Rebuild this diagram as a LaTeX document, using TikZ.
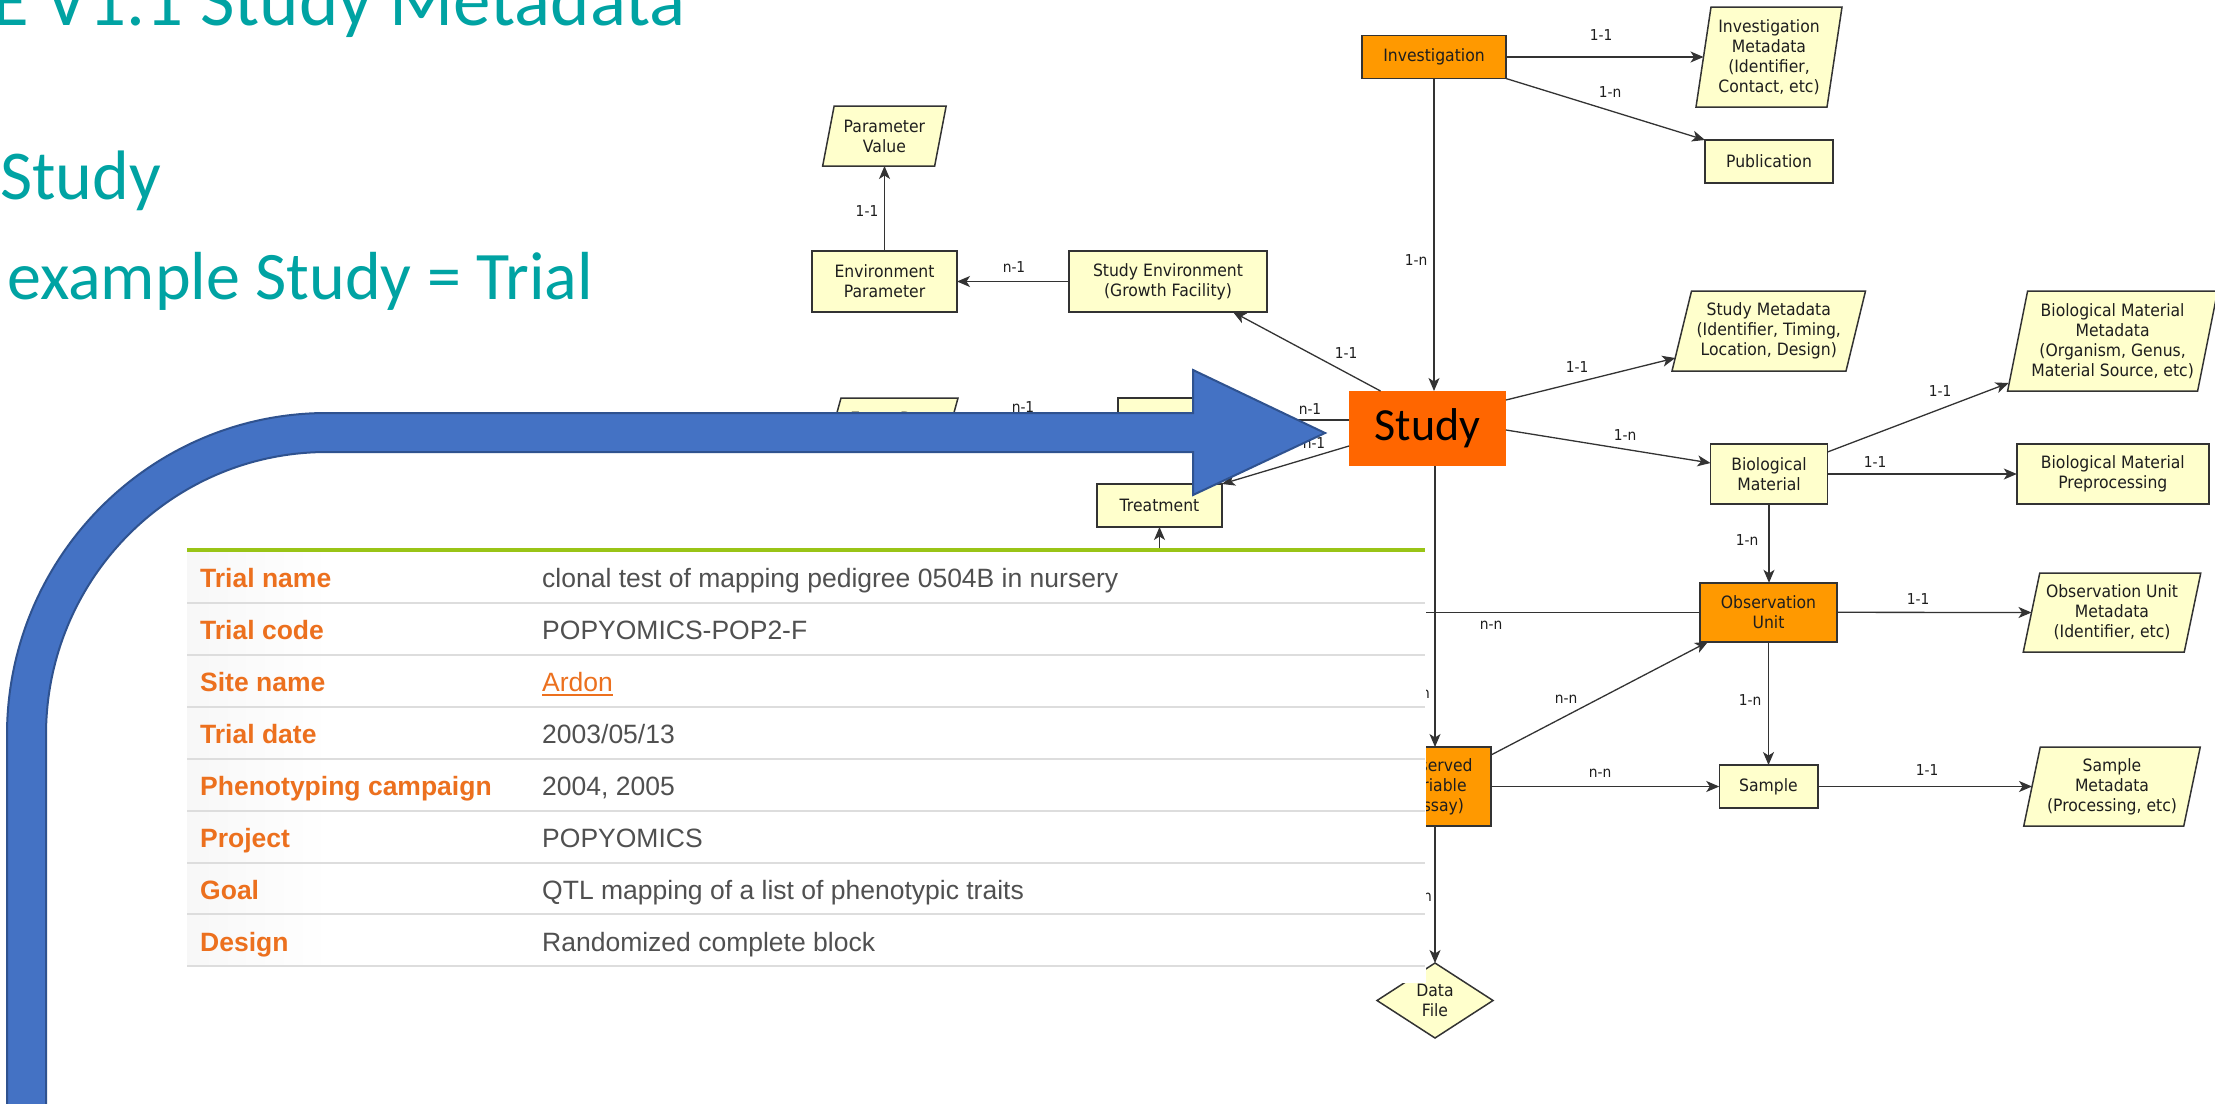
\documentclass[tikz,border=0pt]{standalone}
\usepackage{fontspec}
\usetikzlibrary{shapes.geometric,arrows.meta,calc}
\newfontfamily\djf[FakeStretch=0.92]{DejaVu Sans}
\newfontfamily\carl{Carlito}
\newfontfamily\arl{Liberation Sans}
\definecolor{yel}{RGB}{255,255,204}
\definecolor{org}{RGB}{255,153,0}
\definecolor{studyorg}{RGB}{255,102,0}
\definecolor{bord}{RGB}{51,51,51}
\definecolor{txt}{RGB}{30,30,30}
\definecolor{teal1}{RGB}{0,163,163}
\definecolor{blu}{RGB}{68,114,196}
\definecolor{bluedge}{RGB}{47,82,143}
\definecolor{tlab}{RGB}{236,112,30}
\definecolor{tval}{RGB}{80,80,80}
\definecolor{tgreen}{RGB}{153,196,22}
\definecolor{tline}{RGB}{221,221,221}
\tikzset{
 ybox/.style={rectangle, draw=bord, line width=1.5pt, fill=yel, text=txt, font=\djf\fontsize{17}{20}\selectfont, align=center, inner sep=0pt, outer sep=0pt},
 obox/.style={ybox, fill=org},
 ptext/.style={rectangle, text=txt, font=\djf\fontsize{17}{20}\selectfont, align=center, inner sep=0pt, outer sep=0pt},
 pshape/.style={draw=bord, line width=1.5pt, fill=yel, line join=miter},
 conn/.style={draw=bord, line width=1.3pt, -{Stealth[length=13pt,width=11pt,inset=3.5pt]}},
 plainline/.style={draw=bord, line width=1.3pt},
 lbl/.style={text=txt, font=\djf\fontsize{15}{17}\selectfont, inner sep=0pt},
 tlabel/.style={anchor=base west, inner sep=0pt, text=tlab, font=\arl\bfseries\fontsize{26.5}{30}\selectfont},
 tvalue/.style={anchor=base west, inner sep=0pt, text=tval, font=\arl\fontsize{26.5}{30}\selectfont},
 ttl/.style={anchor=base west, inner sep=0pt, text=teal1, font=\carl\fontsize{75}{90}\selectfont},
}
% name, cx, cy, mid width, height, slant, text
\newcommand\paranode[7]{%
  \path[pshape] (#2-#4/2+#6/2,#3-#5/2) -- (#2+#4/2+#6/2,#3-#5/2) -- (#2+#4/2-#6/2,#3+#5/2) -- (#2-#4/2-#6/2,#3+#5/2) -- cycle;
  \node[ptext, minimum width=#4pt, minimum height=#5pt] (#1) at (#2,#3) {#7};
}
\newcommand\ulin[1]{\setbox0\hbox{#1}\rlap{\vrule height -3pt depth 5pt width \wd0}\box0}
\begin{document}
\begin{tikzpicture}[x=1pt,y=-1pt]
\useasboundingbox (0,0) rectangle (2215,1103);
\clip (0,0) rectangle (2215,1103);
\fill[white] (0,0) rectangle (2215,1103);

% slide text
\node[ttl] (title) at (-8,25) {E V1.1 Study Metadata};
\node[ttl, font=\carl\fontsize{70}{84}\selectfont] (bul1) at (0,199) {Study};
\node[ttl, font=\carl\fontsize{68}{80}\selectfont] (bul2) at (7,299) {example Study = Trial};

% boxes
\node[obox, minimum width=144pt, minimum height=43pt] (inv) at (1434,57) {Investigation};
\node[ybox, minimum width=128pt, minimum height=43pt] (pub) at (1769,161.5) {Publication};
\node[ybox, minimum width=145pt, minimum height=61pt] (envp) at (884.5,281.5) {Environment\\Parameter};
\node[ybox, minimum width=198pt, minimum height=61pt] (senv) at (1168,281.5) {Study Environment\\(Growth Facility)};
\node[rectangle, fill=studyorg, minimum width=157pt, minimum height=75pt, inner sep=0pt, outer sep=0pt, text=black, font=\carl\fontsize{46}{50}\selectfont] (study) at (1427.5,428.5) {Study};
\node[ybox, minimum width=83pt, minimum height=44pt] (event) at (1159.5,420) {Event};
\node[ybox, minimum width=125pt, minimum height=43pt] (treat) at (1159.5,505.5) {Treatment};
\node[ybox, minimum width=117pt, minimum height=60pt] (bm) at (1769,474) {Biological\\Material};
\node[ybox, minimum width=192pt, minimum height=60pt] (bmp) at (2112.8,474) {Biological Material\\Preprocessing};
\node[obox, minimum width=137pt, minimum height=59pt] (ou) at (1768.5,612.3) {Observation\\Unit};
\node[ybox, minimum width=98.5pt, minimum height=43pt] (sample) at (1768.5,786.5) {Sample};
\node[obox, minimum width=112pt, minimum height=79pt] (obsv) at (1435,786.5) {Observed\\Variable\\(Assay)};
\node[ybox, diamond, aspect=1.5, minimum width=116pt, minimum height=75pt] (df) at (1435,1000.5) {Data\\File};

% parallelograms
\paranode{pv}{884.4}{136}{112}{60}{11.5}{Parameter\\Value}
\paranode{im}{1769}{57}{131}{100}{15}{Investigation\\Metadata\\(Identifier,\\Contact, etc)}
\paranode{sm}{1768.75}{331}{174}{80}{19.5}{Study Metadata\\(Identifier, Timing,\\Location, Design)}
\paranode{bmm}{2112.6}{341}{190}{100}{20}{Biological Material\\Metadata\\(Organism, Genus,\\Material Source, etc)}
\paranode{oum}{2112}{612.5}{161}{79}{16.5}{Observation Unit\\Metadata\\(Identifier, etc)}
\paranode{smeta}{2112}{786.5}{160}{79}{16.5}{Sample\\Metadata\\(Processing, etc)}
\paranode{ed}{894}{418}{117}{40}{11}{Event Data}

\coordinate (hidOU) at (1300,612.3);
\coordinate (hidT) at (1159.5,600);

% connectors
\draw[conn] (inv.east) -- (im.west);
\draw[conn] (inv.south east) -- (pub.north west);
\draw[conn] (inv.south) -- (inv.south |- study.north);
\draw[conn] ([yshift=28.5pt]study.east) -- ($(sm.south west)+(-6.5,-13)$);
\draw[conn] ([yshift=-1.5pt]study.east) -- ([yshift=11pt]bm.west);
\draw[conn] ([yshift=22pt]bm.east) -- ($(bmm.south west)+(-9,-8)$);
\draw[conn] (bm.east) -- (bmp.west);
\draw[conn] (bm.south) -- (bm.south |- ou.north);
\draw[conn] (ou.east) -- (oum.west);
\draw[plainline] (ou.west) -- (hidOU);
\draw[conn] (ou.south) -- (ou.south |- sample.north);
\draw[conn] (sample.east) -- (smeta.west);
\draw[conn] (obsv.east) -- (sample.west);
\draw[conn] ([yshift=31.5pt]obsv.east) -- ($(ou.south west)+(8,0)$);
\draw[conn] (obsv.north |- study.south) -- (obsv.north);
\draw[conn] (obsv.south) -- (df.north);
\draw[conn] ($(study.north west)+(31.5,0)$) -- ($(senv.south east)+(-34,0)$);
\draw[conn] (senv.west) -- (envp.east);
\draw[conn] (envp.north) -- (envp.north |- pv.south);
\draw[conn] (study.west |- event.east) -- (event.east);
\draw[conn] (event.west) -- (ed.east);
\draw[conn] ([yshift=-17.5pt]study.west) -- (treat.north east);
\draw[conn] (hidT) -- (treat.south);

% labels
\node[lbl] (l1) at (1601,35) {1-1};
\node[lbl] (l2) at (1610,92) {1-n};
\node[lbl] (l3) at (1416,260) {1-n};
\node[lbl] (l4) at (1577,367) {1-1};
\node[lbl] (l5) at (1625,435) {1-n};
\node[lbl] (l6) at (1940,391) {1-1};
\node[lbl] (l7) at (1875,462) {1-1};
\node[lbl] (l8) at (1747,540) {1-n};
\node[lbl] (l9) at (1918,599) {1-1};
\node[lbl] (l10) at (1491,625) {n-n};
\node[lbl] (l11) at (1750,700) {1-n};
\node[lbl] (l12) at (1927,770) {1-1};
\node[lbl] (l13) at (1600,773) {n-n};
\node[lbl] (l14) at (1566,699) {n-n};
\node[lbl, anchor=east] (l15) at (1430,693) {1-n};
\node[lbl, anchor=east] (l16) at (1432,896) {1-n};
\node[lbl] (l17) at (1346,353) {1-1};
\node[lbl] (l18) at (1014,267) {n-1};
\node[lbl] (l19) at (867,211) {1-1};
\node[lbl] (l20) at (1310,409) {n-1};
\node[lbl] (l21) at (1023,407) {n-1};
\node[lbl] (l22) at (1314,443) {n-1};

% table screenshot
\fill[white] (187,548) rectangle (1426,983);
\shade[left color=black!3, right color=white] (187,552) rectangle (330,966);
\draw[tgreen, line width=4pt] (187,550) -- (1425,550);
\foreach \yy in {603,655,707,759,811,863,914,966} \draw[tline, line width=2.5pt] (187,\yy) -- (1425,\yy);
\node[tlabel] (r1a) at (200,587) {Trial name};
\node[tvalue] (r1b) at (542,587) {clonal test of mapping pedigree 0504B in nursery};
\node[tlabel] (r2a) at (200,639) {Trial code};
\node[tvalue] (r2b) at (542,639) {POPYOMICS-POP2-F};
\node[tlabel] (r3a) at (200,691) {Site name};
\node[tvalue, text=tlab] (r3b) at (542,691) {\ulin{Ardon}};
\node[tlabel] (r4a) at (200,743) {Trial date};
\node[tvalue] (r4b) at (542,743) {2003/05/13};
\node[tlabel] (r5a) at (200,795) {Phenotyping campaign};
\node[tvalue] (r5b) at (542,795) {2004, 2005};
\node[tlabel] (r6a) at (200,847) {Project};
\node[tvalue] (r6b) at (542,847) {POPYOMICS};
\node[tlabel] (r7a) at (200,899) {Goal};
\node[tvalue] (r7b) at (542,899) {QTL mapping of a list of phenotypic traits};
\node[tlabel] (r8a) at (200,951) {Design};
\node[tvalue] (r8b) at (542,951) {Randomized complete block};

% big blue bent arrow
\path[draw=bluedge, line width=2pt, fill=blu, line join=miter]
 (7,1110) -- (7,735) .. controls (7,557.2) and (150.3,413) .. (327,413) -- (1193,413) -- (1193,370) -- (1325,433) -- (1193,495) -- (1193,452) -- (327,452) .. controls (171.8,452) and (46,578.7) .. (46,735) -- (46,1110) -- cycle;
\end{tikzpicture}
\end{document}
